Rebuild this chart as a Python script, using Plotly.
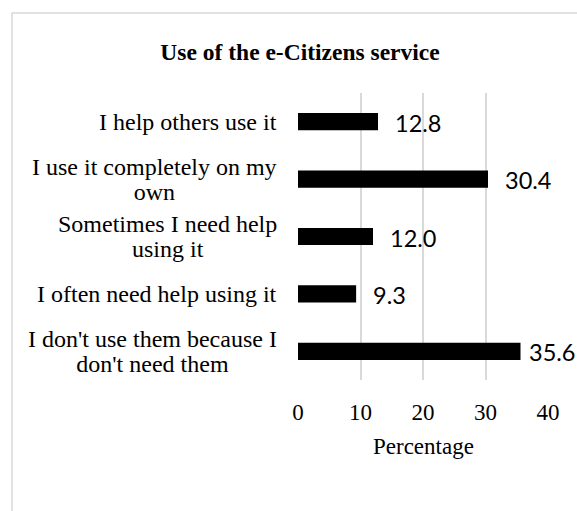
import plotly.graph_objects as go

categories = [
    "I help others use it",
    "I use it completely on my<br>own",
    "Sometimes I need help<br>using it",
    "I often need help using it",
    "I don't use them because I<br>don't need them",
]
values = [12.8, 30.4, 12.0, 9.3, 35.6]
x_ticks = [0, 10, 20, 30, 40]

SERIF = "Liberation Serif, Times New Roman, serif"
SANS = "Lato, Carlito, Calibri, sans-serif"

fig = go.Figure()
fig.add_trace(go.Bar(
    x=values, y=categories, orientation="h",
    marker=dict(color="black", line=dict(width=0)),
    width=0.3,
))

# category labels (centered multi-line, tighter line spacing)
for c in categories:
    styled = "<br>".join(f'<span style="font-size:24px">{ln}</span>' for ln in c.split("<br>"))
    fig.add_annotation(x=0, y=c, xref="x", yref="y", text=styled, showarrow=False,
                       xanchor="right", yanchor="middle", align="center",
                       xshift=-19, font=dict(family=SERIF, size=19, color="black"))
# value labels (the last one is pulled in toward the bar, as in the original)
for i, (c, v) in enumerate(zip(categories, values)):
    fig.add_annotation(x=v, y=c, xref="x", yref="y", text=f"{v:.1f}", showarrow=False,
                       xanchor="left", yanchor="middle",
                       xshift=6 if i == len(values) - 1 else 15, yshift=-1,
                       font=dict(family=SANS, size=23.5, color="black"))

fig.add_annotation(x=0.5, y=-0.233, xref="paper", yref="paper", text="Percentage",
                   showarrow=False, xanchor="center", yanchor="middle",
                   font=dict(family=SERIF, size=23, color="black"))

# chart border
fig.add_shape(type="rect", xref="paper", yref="paper",
              x0=-1.144, x1=1.3, y0=-0.6, y1=1.2787,
              line=dict(color="#d9d9d9", width=1.5), layer="below")

fig.update_layout(
    width=577, height=511,
    margin=dict(l=298, r=29, t=93, b=131),
    plot_bgcolor="white", paper_bgcolor="white",
    showlegend=False,
    title=dict(text="<b>Use of the e-Citizens service</b>", x=300/577, xanchor="center",
               xref="container", y=1 - 52/511, yref="container", yanchor="middle",
               font=dict(family=SERIF, size=23.5, color="black")),
    xaxis=dict(range=[0, 40], tickvals=x_ticks, showgrid=True, gridcolor="#d9d9d9",
               gridwidth=1.5, zeroline=False, showline=False,
               ticks="outside", ticklen=11, tickcolor="rgba(0,0,0,0)",
               tickfont=dict(family=SERIF, size=23, color="black")),
    yaxis=dict(autorange="reversed", showticklabels=False, showgrid=False,
               zeroline=False, showline=False),
    bargap=0.7,
)

fig.write_html("out.html")
